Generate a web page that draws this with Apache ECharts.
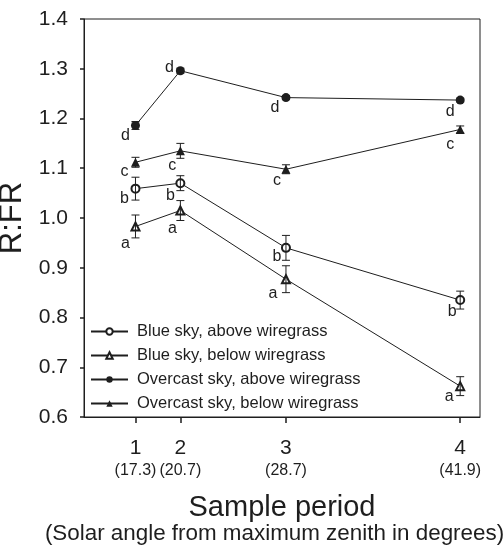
<!DOCTYPE html>
<html>
<head>
<meta charset="utf-8">
<script src="https://cdn.jsdelivr.net/npm/echarts@6/dist/echarts.min.js"></script>
<style>
  html, body { margin: 0; padding: 0; background: #fff; }
  #chart { width: 504px; height: 554px; }
</style>
</head>
<body>
<div id="chart"></div>
<script>
// sample periods and their solar angle (x position follows the angle)
const periods = ['1', '2', '3', '4'];
const solarAngle = [17.3, 20.7, 28.7, 41.9];

const seriesNames = [
  'Blue sky, above wiregrass',
  'Blue sky, below wiregrass',
  'Overcast sky, above wiregrass',
  'Overcast sky, below wiregrass'
];

const blueAbove = [1.059, 1.070, 0.940, 0.835];
const blueAboveErr = [0.023, 0.015, 0.025, 0.018];
const blueBelow = [0.983, 1.015, 0.877, 0.662];
const blueBelowErr = [0.023, 0.020, 0.027, 0.019];
const overAbove = [1.186, 1.296, 1.242, 1.237];
const overAboveErr = [0.008, 0.005, 0.004, 0.004];
const overBelow = [1.112, 1.135, 1.098, 1.178];
const overBelowErr = [0.010, 0.015, 0.009, 0.007];

// significance letters
const blueAboveLetters = ['b', 'b', 'b', 'b'];
const blueBelowLetters = ['a', 'a', 'a', 'a'];
const overAboveLetters = ['d', 'd', 'd', 'd'];
const overBelowLetters = ['c', 'c', 'c', 'c'];

const yTicks = [0.6, 0.7, 0.8, 0.9, 1.0, 1.1, 1.2, 1.3, 1.4];

/* ---------- layout / style ---------- */

const FONT = '"Liberation Sans", Arial, sans-serif';
const INK = '#1e1e1e';

// letter offsets from point centre, px
const LETTER_OFFSETS = [
  [[-11, 10], [-10, 12], [-9, 9], [-8, 12]],
  [[-10, 17], [-8, 18], [-13, 14], [-11, 10]],
  [[-10, 10], [-11, -3], [-11, 10], [-10, 12]],
  [[-11, 9], [-8, 15], [-9, 11], [-10, 15]]
];

const groups = [
  { name: seriesNames[0], y: blueAbove, err: blueAboveErr, letters: blueAboveLetters, symbol: 'emptyCircle', size: 8 },
  { name: seriesNames[1], y: blueBelow, err: blueBelowErr, letters: blueBelowLetters, symbol: 'emptyTriangle', size: 8 },
  { name: seriesNames[2], y: overAbove, err: overAboveErr, letters: overAboveLetters, symbol: 'circle', size: 9 },
  { name: seriesNames[3], y: overBelow, err: overBelowErr, letters: overBelowLetters, symbol: 'triangle', size: 9 }
];

const lineSeries = groups.map((g, gi) => ({
  name: g.name,
  type: 'line',
  symbol: g.symbol,
  symbolSize: g.size,
  z: 2,
  lineStyle: { color: INK, width: 1 },
  itemStyle: { color: INK, borderWidth: 1 },
  data: solarAngle.map((x, i) => ({
    value: [x, g.y[i]],
    label: {
      show: true,
      position: 'inside',
      offset: LETTER_OFFSETS[gi][i],
      formatter: g.letters[i],
      fontFamily: FONT,
      fontSize: 16,
      color: INK
    }
  }))
}));

const errData = [];
groups.forEach((g) => {
  solarAngle.forEach((x, i) => {
    errData.push([x, g.y[i] - g.err[i], g.y[i] + g.err[i]]);
  });
});

const errSeries = {
  type: 'custom',
  name: 'errorBars',
  z: 3,
  silent: true,
  encode: { x: 0, y: [1, 2] },
  data: errData,
  renderItem(params, api) {
    const x = api.value(0);
    const lo = api.coord([x, api.value(1)]);
    const hi = api.coord([x, api.value(2)]);
    const w = 4;
    const st = { stroke: INK, lineWidth: 1 };
    return {
      type: 'group',
      children: [
        { type: 'line', shape: { x1: lo[0], y1: lo[1], x2: hi[0], y2: hi[1] }, style: st },
        { type: 'line', shape: { x1: lo[0] - w, y1: lo[1], x2: lo[0] + w, y2: lo[1] }, style: st },
        { type: 'line', shape: { x1: hi[0] - w, y1: hi[1], x2: hi[0] + w, y2: hi[1] }, style: st }
      ]
    };
  }
};

const chart = echarts.init(document.getElementById('chart'), null, { renderer: 'canvas' });

chart.setOption({
  animation: false,
  backgroundColor: '#fff',
  textStyle: { fontFamily: FONT },
  grid: {
    left: 84, right: 24, top: 19, bottom: 137,
    containLabel: false,
    outerBoundsMode: 'none',
    show: true, borderColor: INK, borderWidth: 1, backgroundColor: 'transparent'
  },
  legend: {
    data: seriesNames,
    orient: 'vertical',
    left: 85,
    top: 318,
    itemWidth: 37,
    itemHeight: 8,
    itemGap: 7,
    itemStyle: { borderWidth: 1 },
    textStyle: { fontFamily: FONT, fontSize: 16.5, color: INK, lineHeight: 16, padding: [0, 0, 0, 4] }
  },
  xAxis: {
    type: 'value',
    min: 13.4,
    max: 43.4,
    splitLine: { show: false },
    axisLine: { lineStyle: { color: INK, width: 1 } },
    axisTick: { show: true, length: 6, customValues: solarAngle, lineStyle: { color: INK, width: 1.5 } },
    axisLabel: {
      customValues: solarAngle,
      showMinLabel: true,
      showMaxLabel: true,
      hideOverlap: false,
      margin: 19,
      formatter: (v) => {
        let i = 0;
        solarAngle.forEach((a, k) => { if (Math.abs(a - v) < 1e-6) i = k; });
        return '{n|' + periods[i] + '}\n{s|(' + solarAngle[i].toFixed(1) + ')}';
      },
      rich: {
        n: { fontFamily: FONT, fontSize: 21, lineHeight: 24, color: INK },
        s: { fontFamily: FONT, fontSize: 16, lineHeight: 22, color: INK }
      }
    },
    name: '{a|Sample period}\n{b|(Solar angle from maximum zenith in degrees)}',
    nameLocation: 'middle',
    nameGap: 76,
    nameTextStyle: {
      rich: {
        a: { fontFamily: FONT, fontSize: 29, lineHeight: 30, color: INK },
        b: { fontFamily: FONT, fontSize: 22.4, lineHeight: 22, color: INK, padding: [0, 15, 0, 0] }
      }
    }
  },
  yAxis: {
    type: 'value',
    min: yTicks[0],
    max: yTicks[yTicks.length - 1],
    interval: 0.1,
    splitLine: { show: false },
    axisLine: { show: true, lineStyle: { color: INK, width: 1 } },
    axisTick: { show: true, length: 4, lineStyle: { color: INK, width: 1.5 } },
    axisLabel: {
      margin: 16,
      fontFamily: FONT,
      fontSize: 21,
      color: INK,
      formatter: (v) => v.toFixed(1)
    },
    name: 'R:FR',
    nameLocation: 'middle',
    nameGap: 48,
    nameTextStyle: { fontFamily: FONT, fontSize: 31, color: INK }
  },
  series: [...lineSeries, errSeries]
});
</script>
</body>
</html>
